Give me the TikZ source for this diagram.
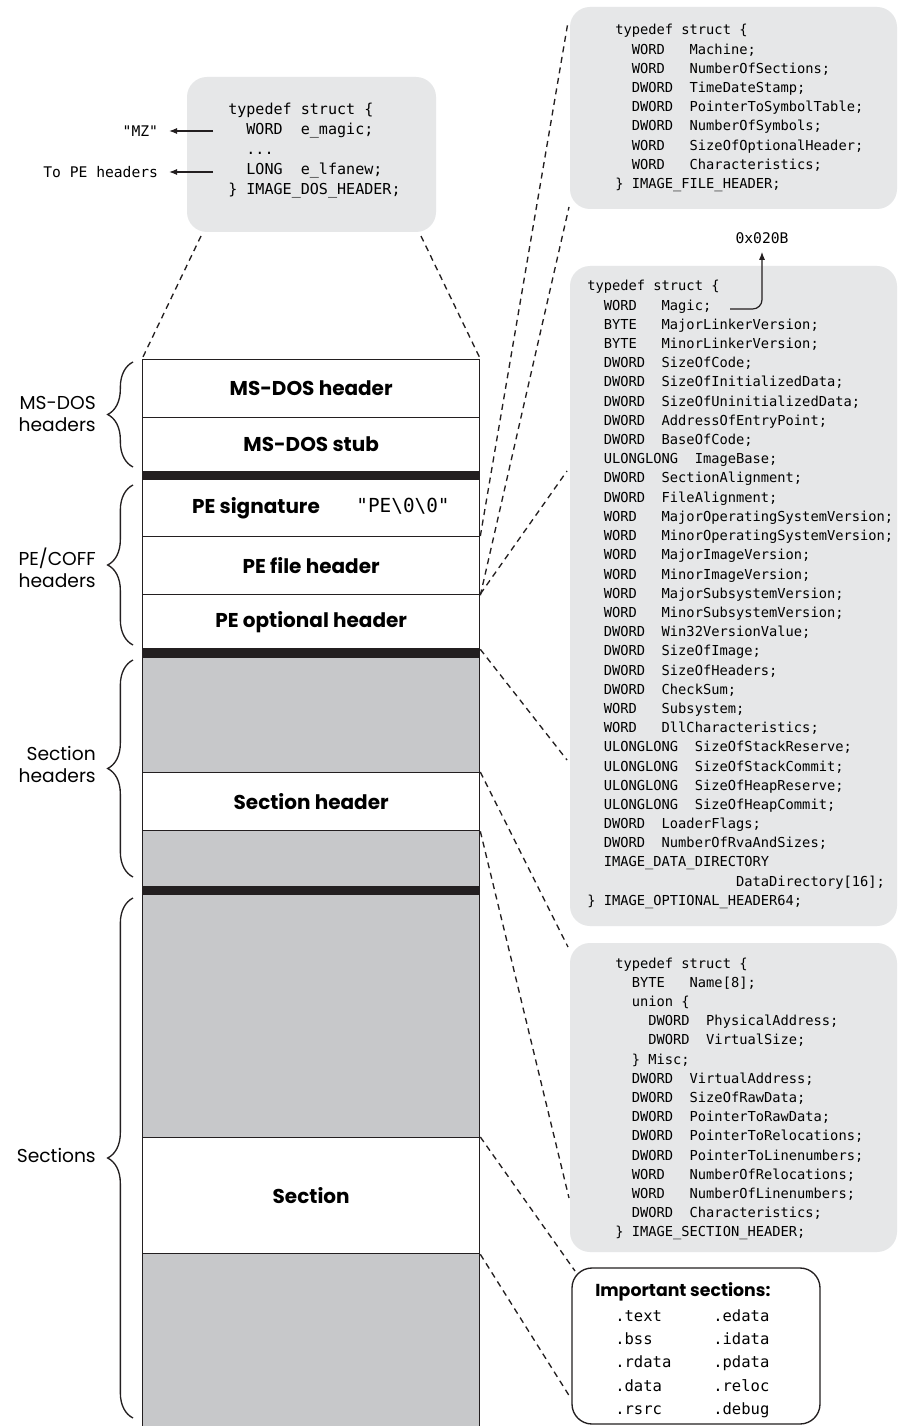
\documentclass[tikz,border=0pt]{standalone}
\usepackage{fontspec}
\setmainfont{Poppins}
\setmonofont{DejaVu Sans Mono}
\usepackage{tikz}
\usetikzlibrary{positioning,shapes,arrows.meta,decorations.pathreplacing}

\definecolor{inkblack}{HTML}{231F20}
\definecolor{rowgray}{HTML}{C7C8CA}
\definecolor{boxgray}{HTML}{E6E7E8}
\newcommand{\pxl}{0.75pt}

\begin{document}
\begin{tikzpicture}[x=0.75pt, y=-0.75pt,
row/.style={draw=inkblack, line width=1pt, fill=white, anchor=north west, minimum width=337*\pxl, inner sep=0pt, font=\bfseries\fontsize{15}{18}\selectfont},
grayrow/.style={row, fill=rowgray},
sepbar/.style={row, fill=inkblack},
rowtext/.style={inner sep=0pt, font=\bfseries\fontsize{15}{18}\selectfont},
structbox/.style={fill=boxgray, rounded corners=15pt, inner sep=0pt},
code/.style={anchor=base west, inner sep=0pt, font=\ttfamily\fontsize{10.3}{14.4}\selectfont},
annot/.style={inner sep=0pt, font=\ttfamily\fontsize{11}{13}\selectfont},
grplabel/.style={anchor=east, align=right, inner sep=0pt, font=\fontsize{14}{16.5}\selectfont},
grpbrace/.style={draw=inkblack, line width=1pt, decorate, decoration={brace, amplitude=19pt}},
zoomline/.style={draw=inkblack, line width=1pt, dash pattern=on 4.5pt off 3.5pt},
callout/.style={draw=inkblack, line width=0.9pt, -{Latex[length=6pt,width=4.5pt]}},
]
\useasboundingbox[fill=white] (0,0) rectangle (901,1426);

%Column
\node[row, minimum height=58*\pxl] (dosh) at (142,359) {MS-DOS header};
\node[row, minimum height=54*\pxl] (doss) at (142,417) {MS-DOS stub};
\node[sepbar, minimum height=8*\pxl] (bar1) at (142,471) {};
\node[row, minimum height=57*\pxl] (pesig) at (142,479) {};
\node[row, minimum height=58*\pxl] (pefile) at (142,536) {PE file header};
\node[row, minimum height=54*\pxl] (peopt) at (142,594) {PE optional header};
\node[sepbar, minimum height=9*\pxl] (bar2) at (142,648) {};
\node[grayrow, minimum height=115*\pxl] (shgray1) at (142,657) {};
\node[row, minimum height=58*\pxl] (shdr) at (142,772) {Section header};
\node[grayrow, minimum height=56*\pxl] (shgray2) at (142,830) {};
\node[sepbar, minimum height=8*\pxl] (bar3) at (142,886) {};
\node[grayrow, minimum height=243*\pxl] (secgray1) at (142,894) {};
\node[row, minimum height=116*\pxl] (sec) at (142,1137) {Section};
\node[grayrow, minimum height=190*\pxl] (secgray2) at (142,1253) {};

\node[rowtext] (pesiglbl) at (256,508) {PE signature};
\node[annot, font=\ttfamily\fontsize{14.5}{16}\selectfont] (pesigval) at (403,506) {"PE\textbackslash0\textbackslash0"};

%Braces
\draw[grpbrace] (133,467) -- (133,362);
\draw[grpbrace] (133,645) -- (133,485);
\draw[grpbrace] (133,877) -- (133,660);
\draw[grpbrace] (133,1418) -- (133,898);
\node[grplabel] (doslbl) at (96,414) {MS-DOS\\headers};
\node[grplabel] (pelbl) at (96,568) {PE/COFF\\headers};
\node[grplabel] (shlbl) at (96,764) {Section\\headers};
\node[grplabel] (seclbl) at (96,1155) {Sections};

%DOS header struct
\node[structbox, minimum width=249*\pxl, minimum height=155*\pxl] (dosbox) at (311.5,154.5) {};
\node[code, font=\ttfamily\fontsize{11.3}{15}\selectfont] (dostxt) at (228,115) {\begin{tabular}[t]{@{}l@{}}
typedef struct \{\\
~~WORD~~e\_magic;\\
~~...\\
~~LONG~~e\_lfanew;\\
\} IMAGE\_DOS\_HEADER;
\end{tabular}};
\coordinate (mzsrc) at (213,131);
\coordinate (lfasrc) at (213,172);
\node[annot, anchor=east, inner xsep=8pt] (mz) at (169,131) {"MZ"};
\node[annot, anchor=east, inner xsep=8pt] (tope) at (169,172) {To PE headers};
\draw[callout] (mzsrc) -- (mz);
\draw[callout] (lfasrc) -- (tope);

%File header struct
\node[structbox, minimum width=327*\pxl, minimum height=202*\pxl] (filebox) at (733.5,108) {};
\node[code] (filetxt) at (615,35) {\begin{tabular}[t]{@{}l@{}}
typedef struct \{\\
~~WORD~~~Machine;\\
~~WORD~~~NumberOfSections;\\
~~DWORD~~TimeDateStamp;\\
~~DWORD~~PointerToSymbolTable;\\
~~DWORD~~NumberOfSymbols;\\
~~WORD~~~SizeOfOptionalHeader;\\
~~WORD~~~Characteristics;\\
\} IMAGE\_FILE\_HEADER;
\end{tabular}};

%Optional header struct
\node[structbox, minimum width=327*\pxl, minimum height=660*\pxl] (optbox) at (733.5,596) {};
\node[code] (opttxt) at (587,291) {\begin{tabular}[t]{@{}l@{}}
typedef struct \{\\
~~WORD~~~Magic;\\
~~BYTE~~~MajorLinkerVersion;\\
~~BYTE~~~MinorLinkerVersion;\\
~~DWORD~~SizeOfCode;\\
~~DWORD~~SizeOfInitializedData;\\
~~DWORD~~SizeOfUninitializedData;\\
~~DWORD~~AddressOfEntryPoint;\\
~~DWORD~~BaseOfCode;\\
~~ULONGLONG~~ImageBase;\\
~~DWORD~~SectionAlignment;\\
~~DWORD~~FileAlignment;\\
~~WORD~~~MajorOperatingSystemVersion;\\
~~WORD~~~MinorOperatingSystemVersion;\\
~~WORD~~~MajorImageVersion;\\
~~WORD~~~MinorImageVersion;\\
~~WORD~~~MajorSubsystemVersion;\\
~~WORD~~~MinorSubsystemVersion;\\
~~DWORD~~Win32VersionValue;\\
~~DWORD~~SizeOfImage;\\
~~DWORD~~SizeOfHeaders;\\
~~DWORD~~CheckSum;\\
~~WORD~~~Subsystem;\\
~~WORD~~~DllCharacteristics;\\
~~ULONGLONG~~SizeOfStackReserve;\\
~~ULONGLONG~~SizeOfStackCommit;\\
~~ULONGLONG~~SizeOfHeapReserve;\\
~~ULONGLONG~~SizeOfHeapCommit;\\
~~DWORD~~LoaderFlags;\\
~~DWORD~~NumberOfRvaAndSizes;\\
~~IMAGE\_DATA\_DIRECTORY\\
~~~~~~~~~~~~~~~~~~DataDirectory[16];\\
\} IMAGE\_OPTIONAL\_HEADER64;
\end{tabular}};
\coordinate (magicend) at (730,309);
\node[annot, inner ysep=6pt] (magicval) at (762,238) {0x020B};
\draw[callout, rounded corners=7pt] (magicend) -| (magicval.south);

%Section header struct
\node[structbox, minimum width=327*\pxl, minimum height=309*\pxl] (secbox) at (733.5,1097.5) {};
\node[code] (sectxt) at (615,968) {\begin{tabular}[t]{@{}l@{}}
typedef struct \{\\
~~BYTE~~~Name[8];\\
~~union \{\\
~~~~DWORD~~PhysicalAddress;\\
~~~~DWORD~~VirtualSize;\\
~~\} Misc;\\
~~DWORD~~VirtualAddress;\\
~~DWORD~~SizeOfRawData;\\
~~DWORD~~PointerToRawData;\\
~~DWORD~~PointerToRelocations;\\
~~DWORD~~PointerToLinenumbers;\\
~~WORD~~~NumberOfRelocations;\\
~~WORD~~~NumberOfLinenumbers;\\
~~DWORD~~Characteristics;\\
\} IMAGE\_SECTION\_HEADER;
\end{tabular}};

%Important sections
\node[draw=inkblack, line width=1pt, fill=white, rounded corners=15pt, minimum width=248*\pxl, minimum height=156*\pxl] (impbox) at (696,1346) {};
\node[anchor=base west, inner sep=0pt, font=\bfseries\fontsize{13}{15}\selectfont] (imptitle) at (595,1296) {Important sections:};
\node[code, font=\ttfamily\fontsize{11.65}{17.5}\selectfont] (implist) at (615,1321) {\begin{tabular}[t]{@{}p{73.5pt}@{}l@{}}
.text & .edata\\
.bss & .idata\\
.rdata & .pdata\\
.data & .reloc\\
.rsrc & .debug
\end{tabular}};

%Zoom lines
\coordinate (dosL) at (201,236);
\coordinate (dosR) at (421,236);
\coordinate (fileA) at (568,22);
\coordinate (fileB) at (569,207);
\coordinate (optA) at (567,471);
\coordinate (optB) at (567,760);
\coordinate (secA) at (568,947);
\coordinate (secB) at (569,1198);
\coordinate (impA) at (575,1271);
\coordinate (impB) at (570,1397);
\draw[zoomline] (dosL) -- (dosh.north west);
\draw[zoomline] (dosR) -- (dosh.north east);
\draw[zoomline] (pefile.north east) -- (fileA);
\draw[zoomline] (pefile.south east) -- (fileB);
\draw[zoomline] (peopt.north east) -- (optA);
\draw[zoomline] (peopt.south east) -- (optB);
\draw[zoomline] (shdr.north east) -- (secA);
\draw[zoomline] (shdr.south east) -- (secB);
\draw[zoomline] (sec.north east) -- (impA);
\draw[zoomline] (sec.south east) -- (impB);
\end{tikzpicture}
\end{document}
